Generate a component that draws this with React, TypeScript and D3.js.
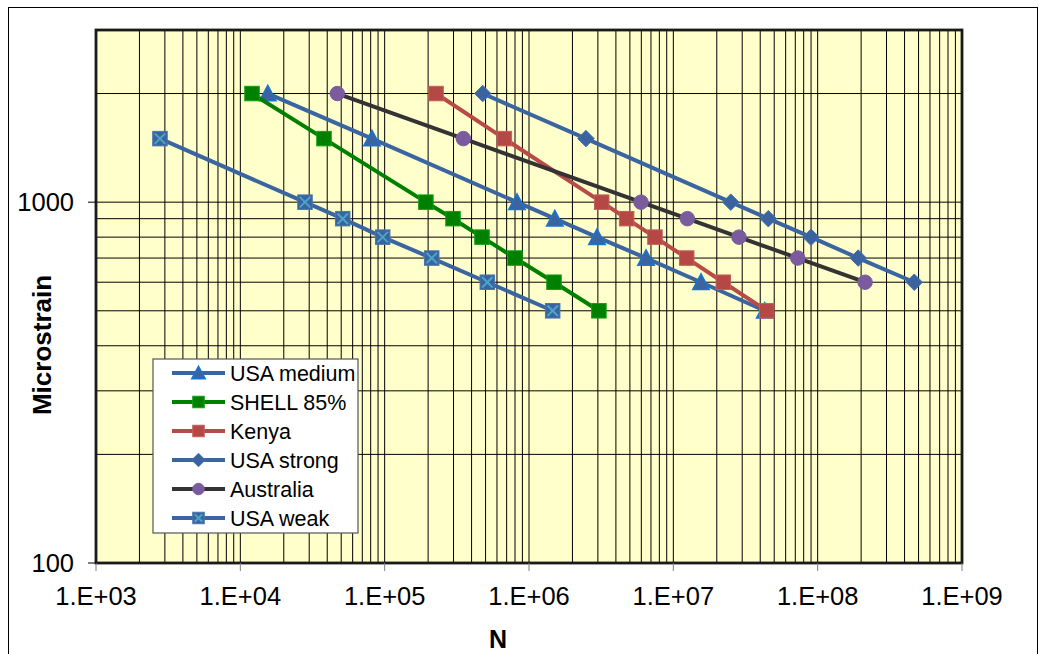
import React from "react";
import * as d3 from "d3";

const seriesNames = ["USA medium", "SHELL 85%", "Kenya", "USA strong", "Australia", "USA weak"];

const usaMediumN = [15500, 81700, 826000, 1510000, 2960000, 6470000, 15550000, 43000000];
const usaMediumS = [2000, 1500, 1000, 900, 800, 700, 600, 500];

const shellN = [12050, 38000, 193000, 297500, 472500, 800000, 1490000, 3050000];
const shellS = [2000, 1500, 1000, 900, 800, 700, 600, 500];

const kenyaN = [227000, 675000, 3190000, 4750000, 7460000, 12380000, 22200000, 44400000];
const kenyaS = [2000, 1500, 1000, 900, 800, 700, 600, 500];

const usaStrongN = [478000, 2480000, 25000000, 45500000, 89900000, 191000000, 467000000];
const usaStrongS = [2000, 1500, 1000, 900, 800, 700, 600];

const australiaN = [47000, 350700, 5970000, 12500000, 28500000, 72800000, 213000000];
const australiaS = [2000, 1500, 1000, 900, 800, 700, 600];

const usaWeakN = [2775, 28060, 51200, 96900, 211800, 514400, 1459000];
const usaWeakS = [1500, 1000, 900, 800, 700, 600, 500];

const xTickValues = [1e3, 1e4, 1e5, 1e6, 1e7, 1e8, 1e9];
const xTickLabels = ["1.E+03", "1.E+04", "1.E+05", "1.E+06", "1.E+07", "1.E+08", "1.E+09"];
const yTickValues = [100, 1000];
const yTickLabels = ["100", "1000"];
const yGridValues = [100, 200, 300, 400, 500, 600, 700, 800, 900, 1000, 2000, 3000];

type Marker = "triangle" | "square" | "diamond" | "circle" | "xsquare";

const styles: { color: string; marker: Marker; fill: string; stroke: string }[] = [
  { color: "#3b65a0", marker: "triangle", fill: "#3a63a0", stroke: "#1874d0" },
  { color: "#008000", marker: "square", fill: "#008000", stroke: "#10a010" },
  { color: "#b84a47", marker: "square", fill: "#b44845", stroke: "#c45f5b" },
  { color: "#3b65a0", marker: "diamond", fill: "#3a63a0", stroke: "#4572ac" },
  { color: "#333333", marker: "circle", fill: "#7a5c9e", stroke: "#7a5c9e" },
  { color: "#3b65a0", marker: "xsquare", fill: "#3a63a0", stroke: "#4aa6c6" },
];

const seriesData = [
  { n: usaMediumN, s: usaMediumS },
  { n: shellN, s: shellS },
  { n: kenyaN, s: kenyaS },
  { n: usaStrongN, s: usaStrongS },
  { n: australiaN, s: australiaS },
  { n: usaWeakN, s: usaWeakS },
];

function MarkerShape({ type, x, y, size, fill, stroke }: { type: Marker; x: number; y: number; size: number; fill: string; stroke: string }) {
  const h = size / 2;
  if (type === "triangle") {
    const pts = `${x},${y - h - 1} ${x + h + 1},${y + h} ${x - h - 1},${y + h}`;
    return <polygon points={pts} fill={fill} stroke={stroke} strokeWidth={1.5} />;
  }
  if (type === "square") {
    return <rect x={x - h} y={y - h} width={size} height={size} fill={fill} stroke={stroke} strokeWidth={1} />;
  }
  if (type === "diamond") {
    const d = h + 1;
    const pts = `${x},${y - d} ${x + d},${y} ${x},${y + d} ${x - d},${y}`;
    return <polygon points={pts} fill={fill} stroke={stroke} strokeWidth={1} />;
  }
  if (type === "circle") {
    return <circle cx={x} cy={y} r={h} fill={fill} stroke={stroke} strokeWidth={1} />;
  }
  const k = h - 2;
  return (
    <g>
      <rect x={x - h} y={y - h} width={size} height={size} fill={fill} stroke="#4876ae" strokeWidth={1} />
      <line x1={x - k} y1={y - k} x2={x + k} y2={y + k} stroke={stroke} strokeWidth={2} />
      <line x1={x - k} y1={y + k} x2={x + k} y2={y - k} stroke={stroke} strokeWidth={2} />
    </g>
  );
}

export default function App() {
  const W = 1046, H = 654;
  const left = 96, right = 962, top = 30, bottom = 563;
  const x = d3.scaleLog().domain([1e3, 1e9]).range([left, right]);
  const y = d3.scaleLog().domain([100, 3000]).range([bottom, top]);

  const xGrid: number[] = [];
  for (let k = 3; k < 9; k++) for (let m = 1; m <= 9; m++) xGrid.push(m * Math.pow(10, k));
  xGrid.push(1e9);

  const line = d3.line<[number, number]>().x(d => x(d[0])).y(d => y(d[1]));
  const font = "'Liberation Sans', Arial, sans-serif";

  const legendX = 153, legendY = 359, legendW = 205, legendH = 174;
  const rowH = 29;

  return (
    <svg width={W} height={H} style={{ position: "absolute", left: 0, top: 0 }} fontFamily={font}>
      <rect x={0} y={0} width={W} height={H} fill="#fff" />
      <rect x={8.5} y={7.5} width={1029} height={700} fill="none" stroke="#000" strokeWidth={1} />
      <rect x={left} y={top} width={right - left} height={bottom - top} fill="#ffffcc" />
      {xGrid.map((v, i) => (
        <line key={"xg" + i} x1={x(v)} x2={x(v)} y1={top} y2={bottom} stroke="#000" strokeWidth={1} />
      ))}
      {yGridValues.map((v, i) => (
        <line key={"yg" + i} x1={left} x2={right} y1={y(v)} y2={y(v)} stroke="#000" strokeWidth={1} />
      ))}
      <rect x={left} y={top} width={right - left} height={bottom - top} fill="none" stroke="#1a1a1a" strokeWidth={2.8} />
      {xTickValues.map((v, i) => (
        <g key={"xt" + i}>
          <line x1={x(v)} x2={x(v)} y1={bottom} y2={bottom + 8} stroke="#808080" strokeWidth={1} />
          <text x={x(v)} y={605} fontSize={25.5} textAnchor="middle" fill="#000">{xTickLabels[i]}</text>
        </g>
      ))}
      {yTickValues.map((v, i) => (
        <g key={"yt" + i}>
          <line x1={left - 8} x2={left} y1={y(v)} y2={y(v)} stroke="#000" strokeWidth={1} />
          <text x={left - 22} y={y(v) + 9} fontSize={25.5} textAnchor="end" fill="#000">{yTickLabels[i]}</text>
        </g>
      ))}
      <text x={498} y={648} fontSize={25} fontWeight="bold" textAnchor="middle">N</text>
      <text transform={`translate(51,345) rotate(-90)`} fontSize={26} fontWeight="bold" textAnchor="middle">Microstrain</text>

      {seriesData.map((sd, i) => {
        const pts = sd.n.map((n, j) => [n, sd.s[j]] as [number, number]);
        const st = styles[i];
        return (
          <g key={"s" + i}>
            <path d={line(pts) || ""} fill="none" stroke={st.color} strokeWidth={4} strokeLinejoin="round" />
            {pts.map((p, j) => (
              <MarkerShape key={j} type={st.marker} x={x(p[0])} y={y(p[1])} size={14.5} fill={st.fill} stroke={st.stroke} />
            ))}
          </g>
        );
      })}

      <rect x={legendX} y={legendY} width={legendW} height={legendH} fill="#fff" stroke="#555" strokeWidth={1.2} />
      {seriesNames.map((name, i) => {
        const cy = legendY + 14 + i * rowH;
        const st = styles[i];
        return (
          <g key={"lg" + i}>
            <line x1={172} x2={225} y1={cy} y2={cy} stroke={st.color} strokeWidth={4} />
            <MarkerShape type={st.marker} x={198.5} y={cy} size={11.5} fill={st.fill} stroke={st.stroke} />
            <text x={230} y={cy + 7.5} fontSize={21.5} fill="#000">{name}</text>
          </g>
        );
      })}
    </svg>
  );
}
